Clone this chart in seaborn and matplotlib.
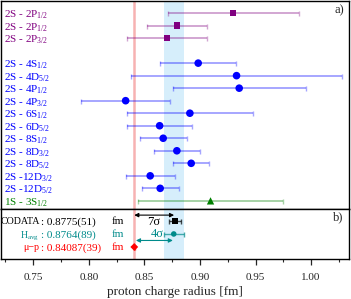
import matplotlib
matplotlib.use("Agg")
import matplotlib.pyplot as plt
import seaborn as sns
import pandas as pd

# measurements (top panel)
labels = ["2S - 2P$_{1/2}$", "2S - 2P$_{1/2}$", "2S - 2P$_{3/2}$",
          "2S - 4S$_{1/2}$", "2S - 4D$_{5/2}$", "2S - 4P$_{1/2}$", "2S - 4P$_{3/2}$",
          "2S - 6S$_{1/2}$", "2S - 6D$_{5/2}$", "2S - 8S$_{1/2}$", "2S - 8D$_{3/2}$",
          "2S - 8D$_{5/2}$", "2S -12D$_{3/2}$", "2S -12D$_{5/2}$", "1S - 3S$_{1/2}$"]
rows = [0, 1, 2, 4, 5, 6, 7, 8, 9, 10, 11, 12, 13, 14, 15]
radius = [0.9299, 0.8795, 0.8702, 0.8984, 0.9329, 0.9353, 0.8331, 0.8909,
          0.8637, 0.8669, 0.8792, 0.8921, 0.8552, 0.8642, 0.9095]
err = [0.059, 0.027, 0.036, 0.034, 0.095, 0.060, 0.040, 0.057,
       0.029, 0.021, 0.021, 0.016, 0.022, 0.0165, 0.065]
group = ["2P"] * 3 + ["nl"] * 11 + ["3S"]

# reference values (bottom panel)
ref_names = ["CODATA", "H$_{\\mathrm{avg}}$", "\u03bc\u2212p"]
ref_values = [0.8775, 0.8764, 0.84087]
ref_err = [0.0051, 0.0089, 0.00039]
ref_text = [": 0.8775(51)", ": 0.8764(89)", ": 0.84087(39)"]
ref_rows = [0, 1, 2]

sns.set_style("white")
plt.rcParams["font.family"] = ["Liberation Serif", "DejaVu Serif"]
plt.rcParams["mathtext.fontset"] = "custom"
plt.rcParams["mathtext.rm"] = "Liberation Serif"
plt.rcParams["mathtext.it"] = "Liberation Serif:italic"

df = pd.DataFrame({"label": labels, "row": rows, "radius": radius, "err": err, "group": group})
colors = {"2P": "#800080", "nl": "#0000ff", "3S": "#008000"}
markers = {"2P": "s", "nl": "o", "3S": "^"}
msizes = {"2P": 22, "nl": 30, "3S": 28}

fig = plt.figure(figsize=(3.51, 2.99), dpi=100)
ax = fig.add_axes([0.003, 0.301, 0.991, 0.696])
ax2 = fig.add_axes([0.003, 0.134, 0.991, 0.167], sharex=ax)

mu_p = ref_values[2]
h_avg, h_err = ref_values[1], ref_err[1]
for a in (ax, ax2):
    a.axvspan(h_avg - h_err, h_avg + h_err, color="#d6eefb", lw=0, zorder=0)
    a.axvline(mu_p, color="#f7b2b2", lw=1.8, zorder=1)

for g, sub in df.groupby("group"):
    ax.errorbar(sub["radius"], sub["row"], xerr=sub["err"], fmt="none",
                ecolor=colors[g], alpha=0.35, elinewidth=1.4, capsize=1.8, capthick=1.0, zorder=2)
    sns.scatterplot(data=sub, x="radius", y="row", ax=ax, color=colors[g],
                    marker=markers[g], s=msizes[g], edgecolor="none", zorder=3, legend=False)
    for _, r in sub.iterrows():
        ax.text(0.009, r["row"], r["label"], transform=ax.get_yaxis_transform(),
                color=colors[g], fontsize=8, va="center_baseline", ha="left")

ax.set_ylim(15.65, -0.97)
ax.set_xlim(0.721, 1.034)
ax.text(0.985, 0.955, "a)", transform=ax.transAxes, ha="right", va="center", fontsize=9)

# bottom panel
ref_colors = ["black", "#008b8b", "#ff0000"]
ref_markers = ["s", "o", "D"]
ref_df = pd.DataFrame({"name": ref_names, "value": ref_values, "row": ref_rows})
for i in range(3):
    ax2.errorbar(ref_values[i], ref_rows[i], xerr=ref_err[i], fmt="none",
                 ecolor=ref_colors[i], alpha=0.7, elinewidth=1.0, capsize=1.8, zorder=2)
    sns.scatterplot(data=ref_df.iloc[[i]], x="value", y="row", ax=ax2, color=ref_colors[i],
                    marker=ref_markers[i], s=16, edgecolor="none", zorder=3, legend=False)
    ax2.text(0.111, ref_rows[i], ref_names[i], transform=ax2.get_yaxis_transform(),
             color=ref_colors[i], fontsize=7.2, ha="right", va="center_baseline")
    ax2.text(0.116, ref_rows[i], ref_text[i], transform=ax2.get_yaxis_transform(),
             color=ref_colors[i], fontsize=8, ha="left", va="center_baseline")
    ax2.text(0.318, ref_rows[i], "fm", transform=ax2.get_yaxis_transform(),
             color=ref_colors[i], fontsize=8, ha="left", va="center_baseline")

ax2.annotate("", xy=(mu_p, -0.45), xytext=(ref_values[0] - 0.0008, -0.45),
             arrowprops=dict(arrowstyle="<|-|>", color="black", lw=0.8,
                             mutation_scale=6, shrinkA=0, shrinkB=0))
ax2.text(0.8585, 0.05, "7\u03c3", ha="center", va="center", fontsize=9, color="black")
ax2.annotate("", xy=(mu_p + 0.0015, 1.5), xytext=(h_avg - 0.0008, 1.5),
             arrowprops=dict(arrowstyle="<|-|>", color="#008b8b", lw=0.8,
                             mutation_scale=6, shrinkA=0, shrinkB=0))
ax2.text(0.8612, 1.0, "4\u03c3", ha="center", va="center", fontsize=9, color="#008b8b")
ax2.text(0.985, 0.84, "b)", transform=ax2.transAxes, ha="right", va="center", fontsize=9)
ax2.set_ylim(2.92, -0.92)

for a in (ax, ax2):
    a.set_yticks([])
    a.set_ylabel("")
    for s in a.spines.values():
        s.set_color("black")
        s.set_linewidth(1.0)
ax.tick_params(axis="x", which="both", bottom=False, labelbottom=False)
ax.set_xlabel("")
ax2.set_xticks([0.75, 0.80, 0.85, 0.90, 0.95, 1.00])
ax2.set_xticklabels(["0.75", "0.80", "0.85", "0.90", "0.95", "1.00"])
ax2.set_xticks([0.725, 0.775, 0.825, 0.875, 0.925, 0.975, 1.025], minor=True)
ax2.tick_params(axis="x", which="major", direction="out", length=4, width=0.9,
                labelsize=8, pad=6, bottom=True)
ax2.tick_params(axis="x", which="minor", direction="out", length=2.5, width=0.8, bottom=True)
ax2.set_xlabel("proton charge radius [fm]", fontsize=9.5, labelpad=3)

fig.savefig("out.png", dpi=100)
